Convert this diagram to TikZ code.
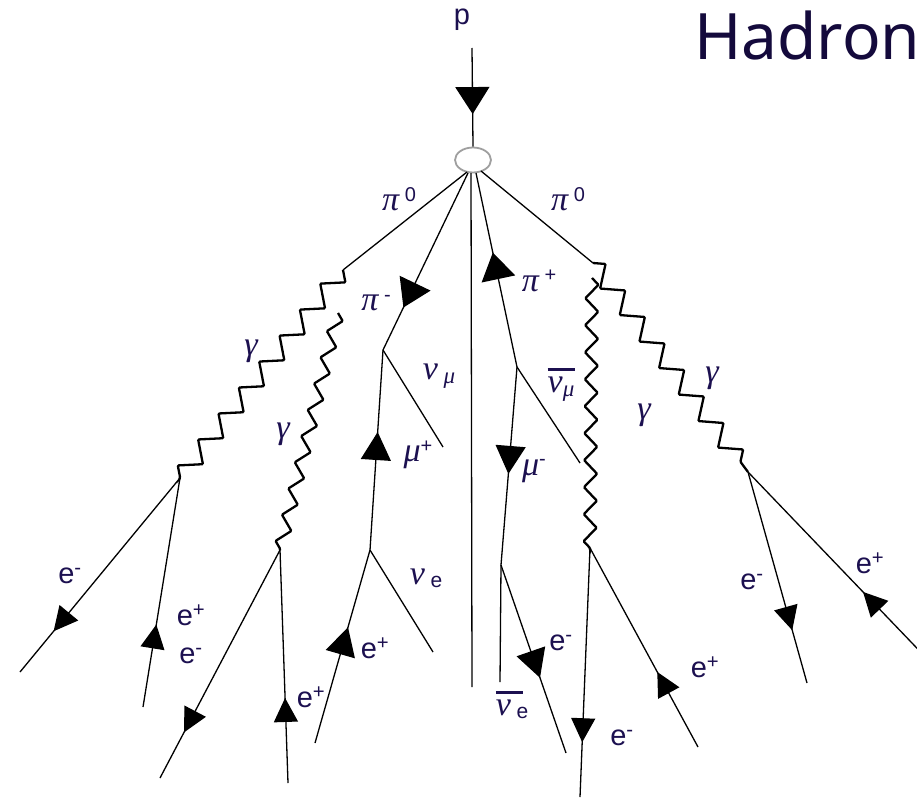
\documentclass[tikz,border=0pt]{standalone}
\usepackage{fontspec}
\setsansfont{Liberation Sans}
\newfontfamily\titlefont{Noto Sans}
\newfontfamily\grk{Liberation Serif}
\usetikzlibrary{arrows.meta,decorations.markings,decorations.pathmorphing,shapes.geometric}
\definecolor{labc}{RGB}{28,16,80}
\definecolor{titc}{RGB}{20,10,60}
\newcommand\supx[1]{\raisebox{0.28em}{\fontsize{20}{20}\selectfont\sffamily\upshape #1}}
\newcommand\subgr[1]{\raisebox{-0.12em}{\fontsize{23}{23}\selectfont\grk\itshape #1}}
\newcommand\subsf[1]{\raisebox{-0.1em}{\fontsize{21}{21}\selectfont\sffamily\upshape #1}}
\newcommand\nubar{\rlap{\rule[0.62em]{0.8em}{0.09em}}ν}
\tikzset{
  ln/.style={line width=1.3pt, black},
  bigarr/.style={postaction={decorate, decoration={markings, mark=at position #1 with {\arrow{Triangle[length=27pt,width=34pt]}}}}},
  midarr/.style={postaction={decorate, decoration={markings, mark=at position #1 with {\arrow{Triangle[length=28pt,width=30pt]}}}}},
  smarr/.style={postaction={decorate, decoration={markings, mark=at position #1 with {\arrow{Triangle[length=24pt,width=24pt]}}}}},
  photon/.style={decorate, decoration={zigzag, segment length=33pt, amplitude=9.5pt}, line width=2.3pt, rounded corners=1pt},
  photonv/.style={decorate, decoration={zigzag, segment length=27pt, amplitude=6.5pt}, line width=2.3pt, rounded corners=1pt},
  gl/.style={text=labc, font=\fontsize{34}{40}\selectfont\grk\itshape, inner sep=0pt},
  el/.style={text=labc, font=\fontsize{29}{34}\selectfont\sffamily, inner sep=0pt},
}
\begin{document}
\begin{tikzpicture}[x=1pt,y=-1pt]
\fill[white] (0,0) rectangle (917,797);
\useasboundingbox (0,0) rectangle (917,797);

% vertex
\node[draw=gray!75, ellipse, line width=1.8pt, minimum width=36pt, minimum height=25pt, inner sep=0pt] (vx) at (473,160) {};
\coordinate (ptop) at (472,48);
\coordinate (vL) at (467,172);
\coordinate (vM) at (468,173);
\coordinate (vC) at (471,173);
\coordinate (vP) at (476,173);
\coordinate (vR) at (481,171);

% decay points and ends
\coordinate (pim) at (383,350);
\coordinate (nmuE) at (443,447);
\coordinate (mupd) at (370,550);
\coordinate (nueE) at (433,652);
\coordinate (epE) at (315,743);
\coordinate (cE) at (472,687);
\coordinate (pip) at (517,367);
\coordinate (nbmuE) at (580,463);
\coordinate (mumd) at (501,565);
\coordinate (nbeE) at (500,682);
\coordinate (emE) at (566,753);
\coordinate (g1s) at (343,270);
\coordinate (g1e) at (180,478);
\coordinate (g2s) at (338,313);
\coordinate (g2e) at (280,550);
\coordinate (g3s) at (593,263);
\coordinate (g3e) at (748,472);
\coordinate (g4s) at (592,278);
\coordinate (g4e) at (590,548);
\coordinate (a1) at (20,672);
\coordinate (a2) at (143,707);
\coordinate (a3) at (160,778);
\coordinate (a4) at (288,783);
\coordinate (a5) at (580,797);
\coordinate (a6) at (698,747);
\coordinate (a7) at (807,683);
\coordinate (a8) at (935,667);

% incoming proton
\draw[ln, bigarr=0.67] (ptop) -- (vx.north);

% pi- branch
\draw[ln, bigarr=0.76] (vM) -- (pim);
\draw[ln] (pim) -- (nmuE);
\draw[ln, midarr=0.59] (mupd) -- (pim);
\draw[ln] (mupd) -- (nueE);
\draw[ln, midarr=0.60] (epE) -- (mupd);

% central line
\draw[ln] (vC) -- (cE);

% pi+ branch
\draw[ln, bigarr=0.59] (pip) -- (vP);
\draw[ln] (pip) -- (nbmuE);
\draw[ln, midarr=0.54] (pip) -- (mumd);
\draw[ln] (mumd) -- (nbeE);
\draw[ln, midarr=0.60] (mumd) -- (emE);

% pi0 lines and photons
\draw[ln] (vL) -- (g1s);
\draw[ln] (vR) -- (g3s);
\draw[photon] (g1s) -- (g1e);
\draw[photonv] (g2s) -- (g2e);
\draw[photon] (g3s) -- (g3e);
\draw[photonv] (g4s) -- (g4e);

% pair production
\draw[ln, smarr=0.79] (g1e) -- (a1);
\draw[ln, smarr=0.36] (a2) -- (g1e);
\draw[ln, smarr=0.80] (g2e) -- (a3);
\draw[ln, smarr=0.365] (a4) -- (g2e);
\draw[ln, smarr=0.78] (g4e) -- (a5);
\draw[ln, smarr=0.377] (a6) -- (g4e);
\draw[ln, smarr=0.75] (g3e) -- (a7);
\draw[ln, smarr=0.385] (a8) -- (g3e);

% labels
\node[el] (lp) at (462,20) {p};
\node[gl] (lpi0l) at (399,199) {π\,\supx{0}};
\node[gl] (lpi0r) at (568,199) {π\,\supx{0}};
\node[gl] (lpim) at (376,303) {π\,\supx{-}};
\node[gl] (lpip) at (539,281) {π\,\supx{+}};
\node[gl] (lnmu) at (439,376) {ν\,\subgr{μ}};
\node[gl] (lmup) at (418,455) {μ\supx{+}};
\node[gl] (lg1) at (251,351) {γ};
\node[gl] (lg2) at (283,434) {γ};
\node[gl] (lnbmu) at (561,385) {\nubar\subgr{μ}};
\node[gl] (lmum) at (534,471) {μ\supx{-}};
\node[gl] (lg4) at (644,415) {γ};
\node[gl] (lg3) at (712,378) {γ};
\node[gl] (lnue) at (426,578) {ν\,\subsf{e}};
\node[gl] (lnbe) at (512,705) {\nubar\,\subsf{e}};
\node[el] (le1) at (70,576) {e\textsuperscript{-}};
\node[el] (le2) at (191,615) {e\textsuperscript{+}};
\node[el] (le3) at (191,656) {e\textsuperscript{-}};
\node[el] (le4) at (311,697) {e\textsuperscript{+}};
\node[el] (le5) at (375,648) {e\textsuperscript{+}};
\node[el] (le6) at (561,643) {e\textsuperscript{-}};
\node[el] (le7) at (622,738) {e\textsuperscript{-}};
\node[el] (le8) at (705,667) {e\textsuperscript{+}};
\node[el] (le9) at (752,582) {e\textsuperscript{-}};
\node[el] (le10) at (870,563) {e\textsuperscript{+}};

% title
\node[anchor=base west, inner sep=0pt, text=titc, font=\fontsize{64}{68}\selectfont\titlefont] (title) at (694,60) {Hadron};
\end{tikzpicture}
\end{document}
